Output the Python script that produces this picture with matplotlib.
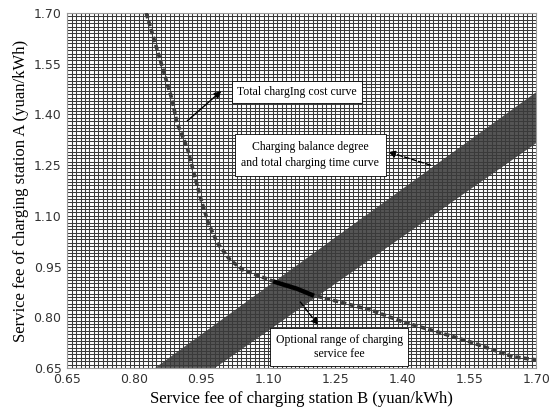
import numpy as np
import matplotlib
matplotlib.use('Agg')
import matplotlib.pyplot as plt
from matplotlib.patches import Polygon

# mesh
x_min, x_max = 0.65, 1.70
y_min, y_max = 0.65, 1.70
grid_step = 0.01
ticks = [0.65, 0.80, 0.95, 1.10, 1.25, 1.40, 1.55, 1.70]
tick_labels = ['0.65', '0.80', '0.95', '1.10', '1.25', '1.40', '1.55', '1.70']

# total charging cost curve
cost_x = [0.827, 0.885, 0.896, 0.907, 0.919, 0.930, 0.948, 0.966, 0.986, 1.015,
          1.044, 1.116, 1.165, 1.198, 1.328, 1.402, 1.478, 1.552, 1.648, 1.700]
cost_y = [1.700, 1.443, 1.375, 1.339, 1.301, 1.245, 1.156, 1.079, 1.020, 0.969,
          0.940, 0.904, 0.884, 0.866, 0.822, 0.786, 0.757, 0.727, 0.683, 0.674]
# part of the cost curve inside the band (optional range)
opt_x = [1.116, 1.165, 1.198]
opt_y = [0.904, 0.884, 0.866]

# balance degree / charging time band (corners)
band_x = [0.847, 1.700, 1.700, 0.981]
band_y = [0.650, 1.466, 1.315, 0.650]

serif = ['Liberation Serif', 'DejaVu Serif']

fig = plt.figure(figsize=(5.5, 4.2), dpi=100)
ax = fig.add_axes([0.122, 0.124, 0.853, 0.845])

ax.add_patch(Polygon(list(zip(band_x, band_y)), closed=True, facecolor='#555555',
                     edgecolor='none', zorder=1))

lines = np.arange(x_min, x_max + grid_step / 2, grid_step)
ax.vlines(lines, y_min, y_max, colors='#3a3a3a', linewidth=0.75, zorder=2)
ax.hlines(lines, x_min, x_max, colors='#3a3a3a', linewidth=0.75, zorder=2)

ax.plot(cost_x, cost_y, color='#3c3c3c', lw=2.6, ls=(0, (1.5, 0.8)), zorder=3)
ax.plot(opt_x, opt_y, color='black', lw=3.2, zorder=4)

ax.set_xlim(x_min, x_max)
ax.set_ylim(y_min, y_max)
ax.set_xticks(ticks)
ax.set_xticklabels(tick_labels)
ax.set_yticks(ticks)
ax.set_yticklabels(tick_labels)
ax.tick_params(length=0, labelsize=9, labelcolor='#333333', pad=4)
for s in ax.spines.values():
    s.set_color('#999999')
    s.set_linewidth(0.8)

ax.set_xlabel('Service fee of charging station B (yuan/kWh)', family=serif, fontsize=12, labelpad=3)
ax.set_ylabel('Service fee of charging station A (yuan/kWh)', family=serif, fontsize=12, labelpad=3)

box = dict(boxstyle='square,pad=0.45', facecolor='white', edgecolor='black', linewidth=0.6)
arrow = dict(arrowstyle='-|>', color='black', lw=1.0, mutation_scale=10, shrinkA=0, shrinkB=0)

ax.text(1.165, 1.466, 'Total chargIng cost curve', ha='center', va='center',
        family=serif, fontsize=8.5, bbox=box, zorder=6)
ax.annotate('', xy=(0.995, 1.469), xytext=(0.919, 1.381), arrowprops=arrow, zorder=6)

ax.text(1.194, 1.280, 'Charging balance degree\nand total charging time curve', ha='center',
        va='center', family=serif, fontsize=8.5, bbox=dict(box, boxstyle='square,pad=0.55'),
        zorder=6, linespacing=1.5)
ax.annotate('', xy=(1.369, 1.289), xytext=(1.463, 1.250),
            arrowprops=dict(arrow, ls='--'), zorder=6)

ax.text(1.259, 0.712, 'Optional range of charging\nservice fee', ha='center', va='center',
        family=serif, fontsize=8.5, bbox=box, zorder=6, linespacing=1.3)
ax.annotate('', xy=(1.212, 0.777), xytext=(1.172, 0.845),
            arrowprops=dict(arrow, ls='--'), zorder=6)

fig.savefig('out.png', dpi=100)
